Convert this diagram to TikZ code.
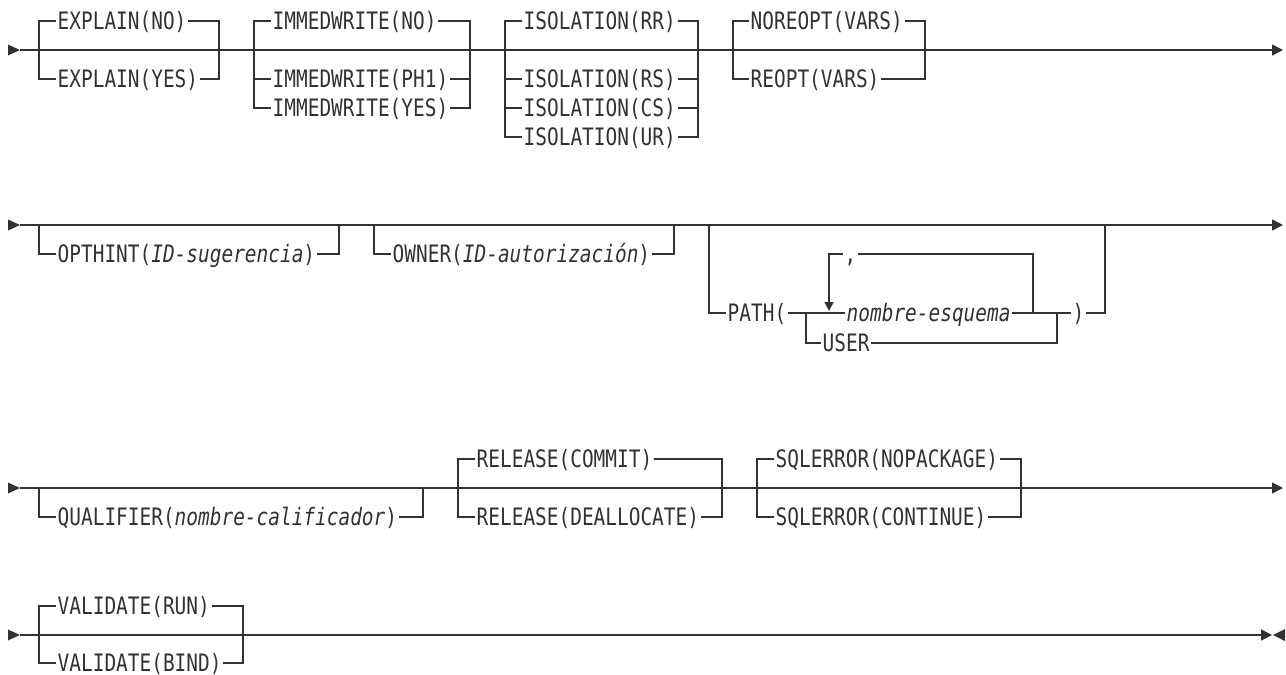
\documentclass[tikz,border=0pt]{standalone}
\usepackage{fontspec}
\usetikzlibrary{arrows.meta}
\newfontfamily\railfont[FakeStretch=0.81]{DejaVu Sans Mono}
\definecolor{railgray}{RGB}{50,50,50}
\tikzstyle{rail}=[line width=1.5pt, draw=railgray]
\tikzstyle{railend}=[-{Triangle[length=11pt,width=11pt]}]
\tikzstyle{keyword}=[anchor=west, text=railgray, font=\railfont\fontsize{24pt}{28pt}\selectfont,
  inner xsep=1.5pt, inner ysep=0pt, text height=17.5pt, text depth=0pt]

\begin{document}
\begin{tikzpicture}[x=1pt, y=-1pt]
  \useasboundingbox (0,0) rectangle (1286,675);

  \foreach \y in {50,225,488,635}
    \fill[railgray] (8,\y-5.5) -- (20,\y) -- (8,\y+5.5) -- cycle;

  % first row
  \coordinate (r1a) at (20,50);
  \coordinate (r1b) at (1283,50);
  \draw[rail, railend] (r1a) -- (r1b);

  \coordinate (ex1) at (39,50);
  \coordinate (ex2) at (219,50);
  \foreach \n/\t/\y in {exno/NO/21, exyes/YES/79} {
    \node[keyword] (\n) at (56,\y) {EXPLAIN(\t)};
    \draw[rail] (ex1) |- (\n) -| (ex2);
  }

  \coordinate (im1) at (254,50);
  \coordinate (im2) at (470,50);
  \foreach \n/\t/\y in {imno/NO/21, imph/PH1/79, imyes/YES/108} {
    \node[keyword] (\n) at (271,\y) {IMMEDWRITE(\t)};
    \draw[rail] (im1) |- (\n) -| (im2);
  }

  \coordinate (is1) at (505,50);
  \coordinate (is2) at (698,50);
  \foreach \n/\t/\y in {isrr/RR/21, isrs/RS/79, iscs/CS/108, isur/UR/137} {
    \node[keyword] (\n) at (522,\y) {ISOLATION(\t)};
    \draw[rail] (is1) |- (\n) -| (is2);
  }

  \coordinate (no1) at (733,50);
  \coordinate (no2) at (925,50);
  \node[keyword] (noreopt) at (749,21) {NOREOPT(VARS)};
  \node[keyword] (reopt) at (749,79) {REOPT(VARS)};
  \draw[rail] (no1) |- (noreopt) -| (no2);
  \draw[rail] (no1) |- (reopt) -| (no2);

  % second row
  \coordinate (r2a) at (20,225);
  \coordinate (r2b) at (1283,225);
  \draw[rail, railend] (r2a) -- (r2b);

  \coordinate (op1) at (39,225);
  \coordinate (op2) at (339,225);
  \node[keyword] (opthint) at (56,254) {OPTHINT(\textit{ID-sugerencia})};
  \draw[rail] (op1) |- (opthint) -| (op2);

  \coordinate (ow1) at (374,225);
  \coordinate (ow2) at (674,225);
  \node[keyword] (owner) at (391,254) {OWNER(\textit{ID-autorización})};
  \draw[rail] (ow1) |- (owner) -| (ow2);

  \coordinate (pa1) at (709,225);
  \coordinate (pa2) at (1105,225);
  \coordinate (pj1) at (806,313);
  \coordinate (pj2) at (1057,313);
  \coordinate (lp1) at (829,311);
  \coordinate (lp2) at (1033,313);
  \node[keyword] (path) at (726,313) {PATH(};
  \node[keyword] (schema) at (845,313) {\textit{nombre-esquema}};
  \node[keyword] (rparen) at (1071,313) {)};
  \node[keyword] (user) at (821,343) {USER};
  \node[keyword] (comma) at (843,254) {,};
  \draw[rail] (pa1) |- (path) -- (schema) -- (rparen) -| (pa2);
  \draw[rail] (pj1) |- (user) -| (pj2);
  \draw[rail] (lp2) |- (comma);
  \draw[rail, -{Triangle[length=9pt,width=9pt]}] (comma) -| (lp1);

  % third row
  \coordinate (r3a) at (20,488);
  \coordinate (r3b) at (1283,488);
  \draw[rail, railend] (r3a) -- (r3b);

  \coordinate (qu1) at (39,488);
  \coordinate (qu2) at (423,488);
  \node[keyword] (qualifier) at (56,517) {QUALIFIER(\textit{nombre-calificador})};
  \draw[rail] (qu1) |- (qualifier) -| (qu2);

  \coordinate (re1) at (458,488);
  \coordinate (re2) at (722,488);
  \foreach \n/\t/\y in {recommit/COMMIT/459, redealloc/DEALLOCATE/517} {
    \node[keyword] (\n) at (475,\y) {RELEASE(\t)};
    \draw[rail] (re1) |- (\n) -| (re2);
  }

  \coordinate (sq1) at (757,488);
  \coordinate (sq2) at (1021,488);
  \foreach \n/\t/\y in {sqnopkg/NOPACKAGE/459, sqcont/CONTINUE/517} {
    \node[keyword] (\n) at (774,\y) {SQLERROR(\t)};
    \draw[rail] (sq1) |- (\n) -| (sq2);
  }

  % last row
  \coordinate (r4a) at (20,635);
  \coordinate (r4b) at (1272,635);
  \draw[rail, railend] (r4a) -- (r4b);
  \fill[railgray] (1285,629) -- (1273,635) -- (1285,641) -- cycle;

  \coordinate (va1) at (39,635);
  \coordinate (va2) at (243,635);
  \coordinate (va3) at (248,635);
  \coordinate (va4) at (272,635);
  \foreach \n/\t/\y in {varun/RUN/606, vabind/BIND/663} {
    \node[keyword] (\n) at (56,\y) {VALIDATE(\t)};
    \draw[rail] (va1) |- (\n) -| (va2);
  }
  \draw[rail, line width=2.4pt] (va3) -- (va4);
\end{tikzpicture}
\end{document}
